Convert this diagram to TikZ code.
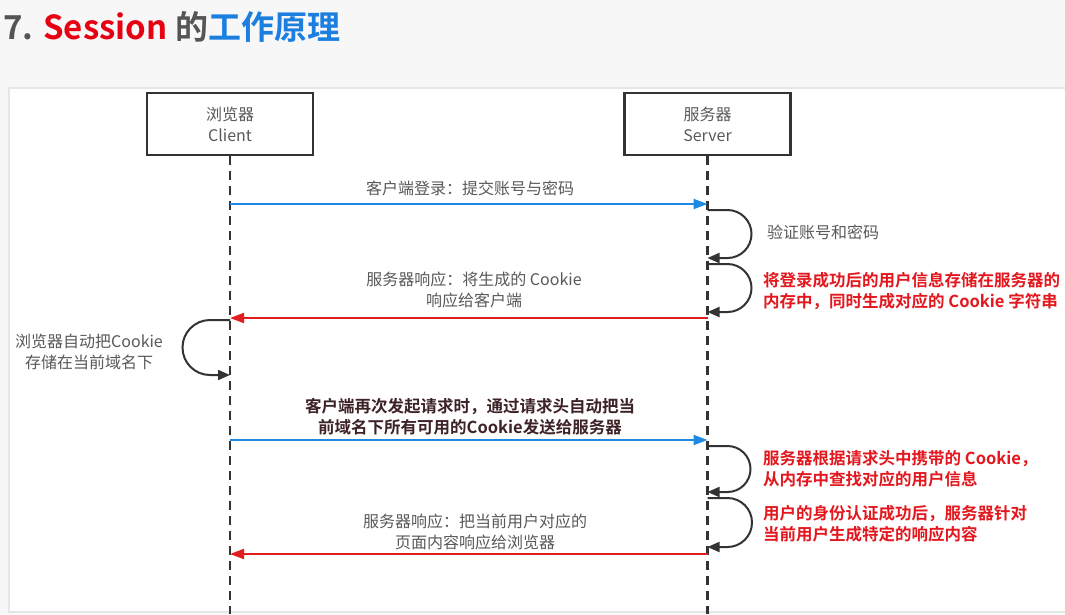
\documentclass[tikz,border=0pt]{standalone}
\usepackage{fontspec}
\setmainfont{Noto Sans CJK SC}[BoldFont={Noto Sans CJK SC Bold}]
\usetikzlibrary{arrows.meta}
\definecolor{txtgray}{HTML}{595959}
\definecolor{boxline}{HTML}{333333}
\definecolor{arrblue}{HTML}{1E88E5}
\definecolor{arrred}{HTML}{E01E1E}
\definecolor{lblred}{HTML}{E3171D}
\definecolor{darklbl}{HTML}{3D2226}
\definecolor{ttlgray}{HTML}{555555}
\definecolor{ttlred}{HTML}{E60012}
\definecolor{ttlblue}{HTML}{1C7FE0}
\definecolor{framegray}{HTML}{E6E6E6}
\definecolor{bggray}{HTML}{F7F7F7}
\begin{document}
\begin{tikzpicture}[x=1pt,y=-1pt,
  actorbox/.style={draw=boxline,line width=2.2pt,fill=white,minimum width=166pt,minimum height=62pt,
    align=center,text=txtgray,font=\fontsize{16}{21}\selectfont,inner sep=0pt},
  lifeline/.style={draw=boxline,line width=2.2pt,dash pattern=on 9pt off 6pt},
  msgblue/.style={draw=arrblue,line width=2pt,-{Triangle[length=14pt,width=10pt]}},
  msgred/.style={draw=arrred,line width=2pt,-{Triangle[length=14pt,width=10pt]}},
  selfloop/.style={draw=boxline,line width=2pt,-{Triangle[length=12pt,width=10pt]}},
  graylbl/.style={text=txtgray,font=\fontsize{16}{21}\selectfont,align=center,inner sep=0pt},
  redlbl/.style={text=lblred,font=\bfseries\fontsize{16.5}{21}\selectfont,align=left,inner sep=0pt,anchor=west},
  darkbold/.style={text=darklbl,font=\bfseries\fontsize{16.5}{21}\selectfont,align=center,inner sep=0pt}
]
\useasboundingbox (0,0) rectangle (1065,614);
\fill[bggray] (0,0) rectangle (1065,614);
\fill[white,draw=framegray,line width=1.5pt] (9,88) rectangle (1070,612);

% title
\node[anchor=west,inner sep=0pt,font=\bfseries\fontsize{33}{38}\selectfont] (title) at (3,27)
  {\textcolor{ttlgray}{7.} \textcolor{ttlred}{Session} \textcolor{ttlgray}{的}\textcolor{ttlblue}{工作原理}};

% actors
\node[actorbox] (client) at (230,124) {浏览器\\Client};
\node[actorbox] (server) at (707.5,124) {服务器\\Server};
\coordinate (cend) at (230,614);
\coordinate (send) at (707.5,614);
\draw[lifeline] (client.south) -- (cend);
\draw[lifeline] (server.south) -- (send);

% message 1
\coordinate (c1) at (230,204);
\coordinate (s1) at (707.5,204);
\draw[msgblue] (c1) -- (s1);
\node[graylbl] (l1) at (470,188) {客户端登录：提交账号与密码};

% server loop 1
\coordinate (la1) at (707.5,210);
\coordinate (lb1) at (707.5,258);
\draw[selfloop] (la1) -- ++(20,0) arc[start angle=-90,end angle=90,radius=24] -- (lb1);
\node[graylbl,anchor=west] (ll1) at (767,232) {验证账号和密码};

% server loop 2
\coordinate (la2) at (707.5,264);
\coordinate (lb2) at (707.5,312);
\draw[selfloop] (la2) -- ++(20,0) arc[start angle=-90,end angle=90,radius=24] -- (lb2);
\node[redlbl] (ll2) at (763,291) {将登录成功后的用户信息存储在服务器的\\内存中，同时生成对应的 Cookie 字符串};

% message 2
\coordinate (s2) at (707.5,318);
\coordinate (c2) at (230,318);
\draw[msgred] (s2) -- (c2);
\node[graylbl] (l2) at (474,290) {服务器响应：将生成的 Cookie\\响应给客户端};

% client loop
\coordinate (ca) at (230,320);
\coordinate (cb) at (230,375);
\draw[selfloop] (ca) -- ++(-20,0) arc[start angle=-90,end angle=-270,radius=27.5] -- (cb);
\node[graylbl] (cl) at (89,352) {浏览器自动把Cookie\\存储在当前域名下};

% message 3
\coordinate (c3) at (230,440);
\coordinate (s3) at (707.5,440);
\draw[msgblue] (c3) -- (s3);
\node[darkbold] (l3) at (470,417) {客户端再次发起请求时，通过请求头自动把当\\前域名下所有可用的Cookie发送给服务器};

% server loop 3
\coordinate (la3) at (707.5,446);
\coordinate (lb3) at (707.5,492);
\draw[selfloop] (la3) -- ++(20,0) arc[start angle=-90,end angle=90,radius=23] -- (lb3);
\node[redlbl] (ll3) at (763,469) {服务器根据请求头中携带的 Cookie，\\从内存中查找对应的用户信息};

% server loop 4
\coordinate (la4) at (707.5,498);
\coordinate (lb4) at (707.5,547);
\draw[selfloop] (la4) -- ++(20,0) arc[start angle=-90,end angle=90,radius=24.5] -- (lb4);
\node[redlbl] (ll4) at (763,524) {用户的身份认证成功后，服务器针对\\当前用户生成特定的响应内容};

% message 4
\coordinate (s4) at (707.5,554);
\coordinate (c4) at (230,554);
\draw[msgred] (s4) -- (c4);
\node[graylbl] (l4) at (475,532) {服务器响应：把当前用户对应的\\页面内容响应给浏览器};
\end{tikzpicture}
\end{document}
